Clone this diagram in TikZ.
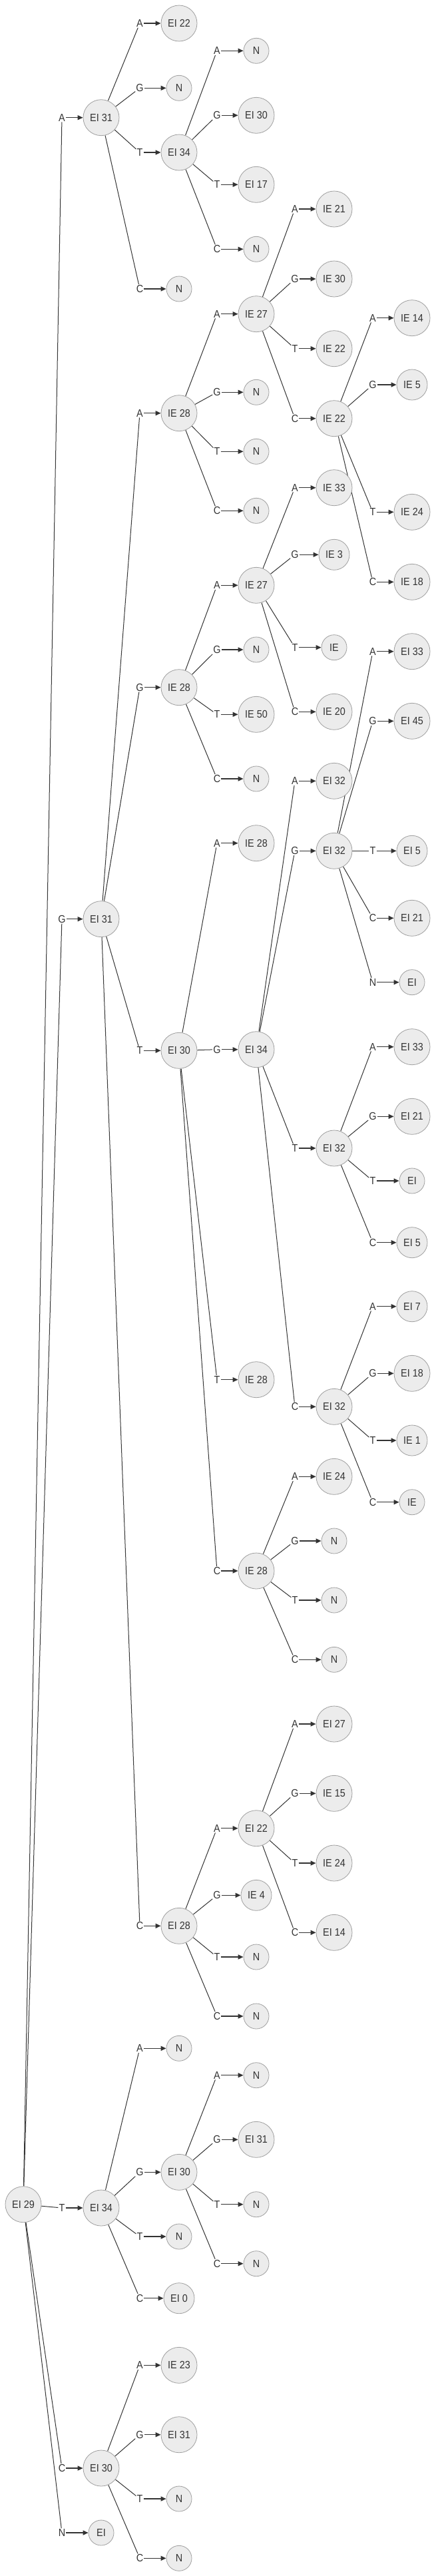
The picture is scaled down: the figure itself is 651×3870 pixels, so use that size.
\documentclass[tikz,border=0pt]{standalone}
\usepackage{fontspec}
\setmainfont{Liberation Sans}[FakeStretch=0.9]
\usetikzlibrary{arrows.meta}
\pgfdeclarelayer{bg}
\pgfsetlayers{bg,main}
\definecolor{nfill}{HTML}{ECECEC}
\definecolor{nline}{HTML}{A0A0A0}
\definecolor{ink}{HTML}{333333}
\tikzset{
  base/.style={circle, draw=nline, fill=nfill, line width=0.8pt, inner sep=0pt, text=ink,
               font=\fontsize{16}{19}\selectfont},
  big/.style={base, minimum size=54pt},
  mid/.style={base, minimum size=46pt},
  sm/.style={base, minimum size=38pt},
  lab/.style={inner sep=1pt, text=ink, font=\fontsize{16}{19}\selectfont},
  ln/.style={draw=ink, line width=1pt},
  arr/.style={draw=ink, line width=1.5pt, -{Triangle[length=8pt,width=7pt]}}
}
% #1 parent, #2 id, #3 letter, #4 child x, #5 y, #6 style, #7 text
\newcommand{\mybr}[7]{%
  \node[lab] (#2l) at (#4-59,#5) {#3};
  \node[#6] (#2) at (#4,#5) {#7};
  \begin{pgfonlayer}{bg}\draw[ln] (#1) -- (#2l);\end{pgfonlayer}
  \draw[arr] (#2l) -- (#2);
}
\begin{document}
\begin{tikzpicture}[x=1pt,y=-1pt]
\useasboundingbox (0,0) rectangle (651,3870);
\node[big] (r) at (35,3311.7) {EI 29};
% level 1
\mybr{r}{a}{A}{152}{176.7}{big}{EI 31}
\mybr{r}{g}{G}{152}{1380.7}{big}{EI 31}
\mybr{r}{t}{T}{152}{3317}{big}{EI 34}
\mybr{r}{c}{C}{152}{3708}{big}{EI 30}
\mybr{r}{n}{N}{152}{3805}{sm}{EI}
% under a
\mybr{a}{aa}{A}{269}{35}{big}{EI 22}
\mybr{a}{ag}{G}{269}{132.3}{sm}{N}
\mybr{a}{at}{T}{269}{229}{big}{EI 34}
\mybr{a}{ac}{C}{269}{434}{sm}{N}
% under at
\mybr{at}{ata}{A}{385}{76.3}{sm}{N}
\mybr{at}{atg}{G}{385}{173.3}{big}{EI 30}
\mybr{at}{att}{T}{385}{277.3}{big}{EI 17}
\mybr{at}{atc}{C}{385}{374.3}{sm}{N}
% under g
\mybr{g}{ga}{A}{269}{620.7}{big}{IE 28}
\mybr{g}{gg}{G}{269}{1032.7}{big}{IE 28}
\mybr{g}{gt}{T}{269}{1578.3}{big}{EI 30}
\mybr{g}{gc}{C}{269}{2893.3}{big}{EI 28}
% under ga
\mybr{ga}{gaa}{A}{385}{471.7}{big}{IE 27}
\mybr{ga}{gag}{G}{385}{589.3}{sm}{N}
\mybr{ga}{gat}{T}{385}{678.3}{sm}{N}
\mybr{ga}{gac}{C}{385}{767.3}{sm}{N}
% under gaa
\mybr{gaa}{gaaa}{A}{502}{314}{big}{IE 21}
\mybr{gaa}{gaag}{G}{502}{419}{big}{IE 30}
\mybr{gaa}{gaat}{T}{502}{523.7}{big}{IE 22}
\mybr{gaa}{gaac}{C}{502}{628.7}{big}{IE 22}
% under gaac
\mybr{gaac}{gaaca}{A}{619}{477.7}{big}{IE 14}
\mybr{gaac}{gaacg}{G}{619}{578}{mid}{IE 5}
\mybr{gaac}{gaact}{T}{619}{769.3}{big}{IE 24}
\mybr{gaac}{gaacc}{C}{619}{874.3}{big}{IE 18}
% under gg
\mybr{gg}{gga}{A}{385}{879.3}{big}{IE 27}
\mybr{gg}{ggg}{G}{385}{976}{sm}{N}
\mybr{gg}{ggt}{T}{385}{1073.3}{big}{IE 50}
\mybr{gg}{ggc}{C}{385}{1170}{sm}{N}
% under gga
\mybr{gga}{ggaa}{A}{502}{732.7}{big}{IE 33}
\mybr{gga}{ggag}{G}{502}{833.3}{mid}{IE 3}
\mybr{gga}{ggat}{T}{502}{972.7}{sm}{IE}
\mybr{gga}{ggac}{C}{502}{1069.3}{big}{IE 20}
% under gt
\mybr{gt}{gta}{A}{385}{1266.7}{big}{IE 28}
\mybr{gt}{gtg}{G}{385}{1576.7}{big}{EI 34}
\mybr{gt}{gtt}{T}{385}{2072.7}{big}{IE 28}
\mybr{gt}{gtc}{C}{385}{2360}{big}{IE 28}
% under gtg
\mybr{gtg}{gtga}{A}{502}{1173.3}{big}{EI 32}
\mybr{gtg}{gtgg}{G}{502}{1278.3}{big}{EI 32}
\mybr{gtg}{gtgt}{T}{502}{1725}{big}{EI 32}
\mybr{gtg}{gtgc}{C}{502}{2113.3}{big}{EI 32}
% under gtgg
\mybr{gtgg}{gtgga}{A}{619}{978.7}{big}{EI 33}
\mybr{gtgg}{gtggg}{G}{619}{1083.3}{big}{EI 45}
\mybr{gtgg}{gtggt}{T}{619}{1278.3}{mid}{EI 5}
\mybr{gtgg}{gtggc}{C}{619}{1379.3}{big}{EI 21}
\mybr{gtgg}{gtggn}{N}{619}{1475.7}{sm}{EI}
% under gtgt
\mybr{gtgt}{gtgta}{A}{619}{1572.7}{big}{EI 33}
\mybr{gtgt}{gtgtg}{G}{619}{1677.3}{big}{EI 21}
\mybr{gtgt}{gtgtt}{T}{619}{1774}{sm}{EI}
\mybr{gtgt}{gtgtc}{C}{619}{1866.7}{mid}{EI 5}
% under gtgc
\mybr{gtgc}{gtgca}{A}{619}{1962.7}{mid}{EI 7}
\mybr{gtgc}{gtgcg}{G}{619}{2063.3}{big}{EI 18}
\mybr{gtgc}{gtgct}{T}{619}{2164}{mid}{IE 1}
\mybr{gtgc}{gtgcc}{C}{619}{2256.7}{sm}{IE}
% under gtc
\mybr{gtc}{gtca}{A}{502}{2218.3}{big}{IE 24}
\mybr{gtc}{gtcg}{G}{502}{2315}{sm}{N}
\mybr{gtc}{gtct}{T}{502}{2404}{sm}{N}
\mybr{gtc}{gtcc}{C}{502}{2493.3}{sm}{N}
% under gc
\mybr{gc}{gca}{A}{385}{2746.7}{big}{EI 22}
\mybr{gc}{gcg}{G}{385}{2847.3}{mid}{IE 4}
\mybr{gc}{gct}{T}{385}{2940}{sm}{N}
\mybr{gc}{gcc}{C}{385}{3029}{sm}{N}
% under gca
\mybr{gca}{gcaa}{A}{502}{2590}{big}{EI 27}
\mybr{gca}{gcag}{G}{502}{2694.3}{big}{IE 15}
\mybr{gca}{gcat}{T}{502}{2799}{big}{IE 24}
\mybr{gca}{gcac}{C}{502}{2903.3}{big}{EI 14}
% under t
\mybr{t}{ta}{A}{269}{3077.3}{sm}{N}
\mybr{t}{tg}{G}{269}{3263.3}{big}{EI 30}
\mybr{t}{tt}{T}{269}{3360}{sm}{N}
\mybr{t}{tc}{C}{269}{3452.7}{mid}{EI 0}
% under tg
\mybr{tg}{tga}{A}{385}{3117.7}{sm}{N}
\mybr{tg}{tgg}{G}{385}{3214.3}{big}{EI 31}
\mybr{tg}{tgt}{T}{385}{3311.7}{sm}{N}
\mybr{tg}{tgc}{C}{385}{3400.7}{sm}{N}
% under c
\mybr{c}{ca}{A}{269}{3553.3}{big}{IE 23}
\mybr{c}{cg}{G}{269}{3657.7}{big}{EI 31}
\mybr{c}{ct}{T}{269}{3754}{sm}{N}
\mybr{c}{cc}{C}{269}{3843.3}{sm}{N}
\end{tikzpicture}
\end{document}
